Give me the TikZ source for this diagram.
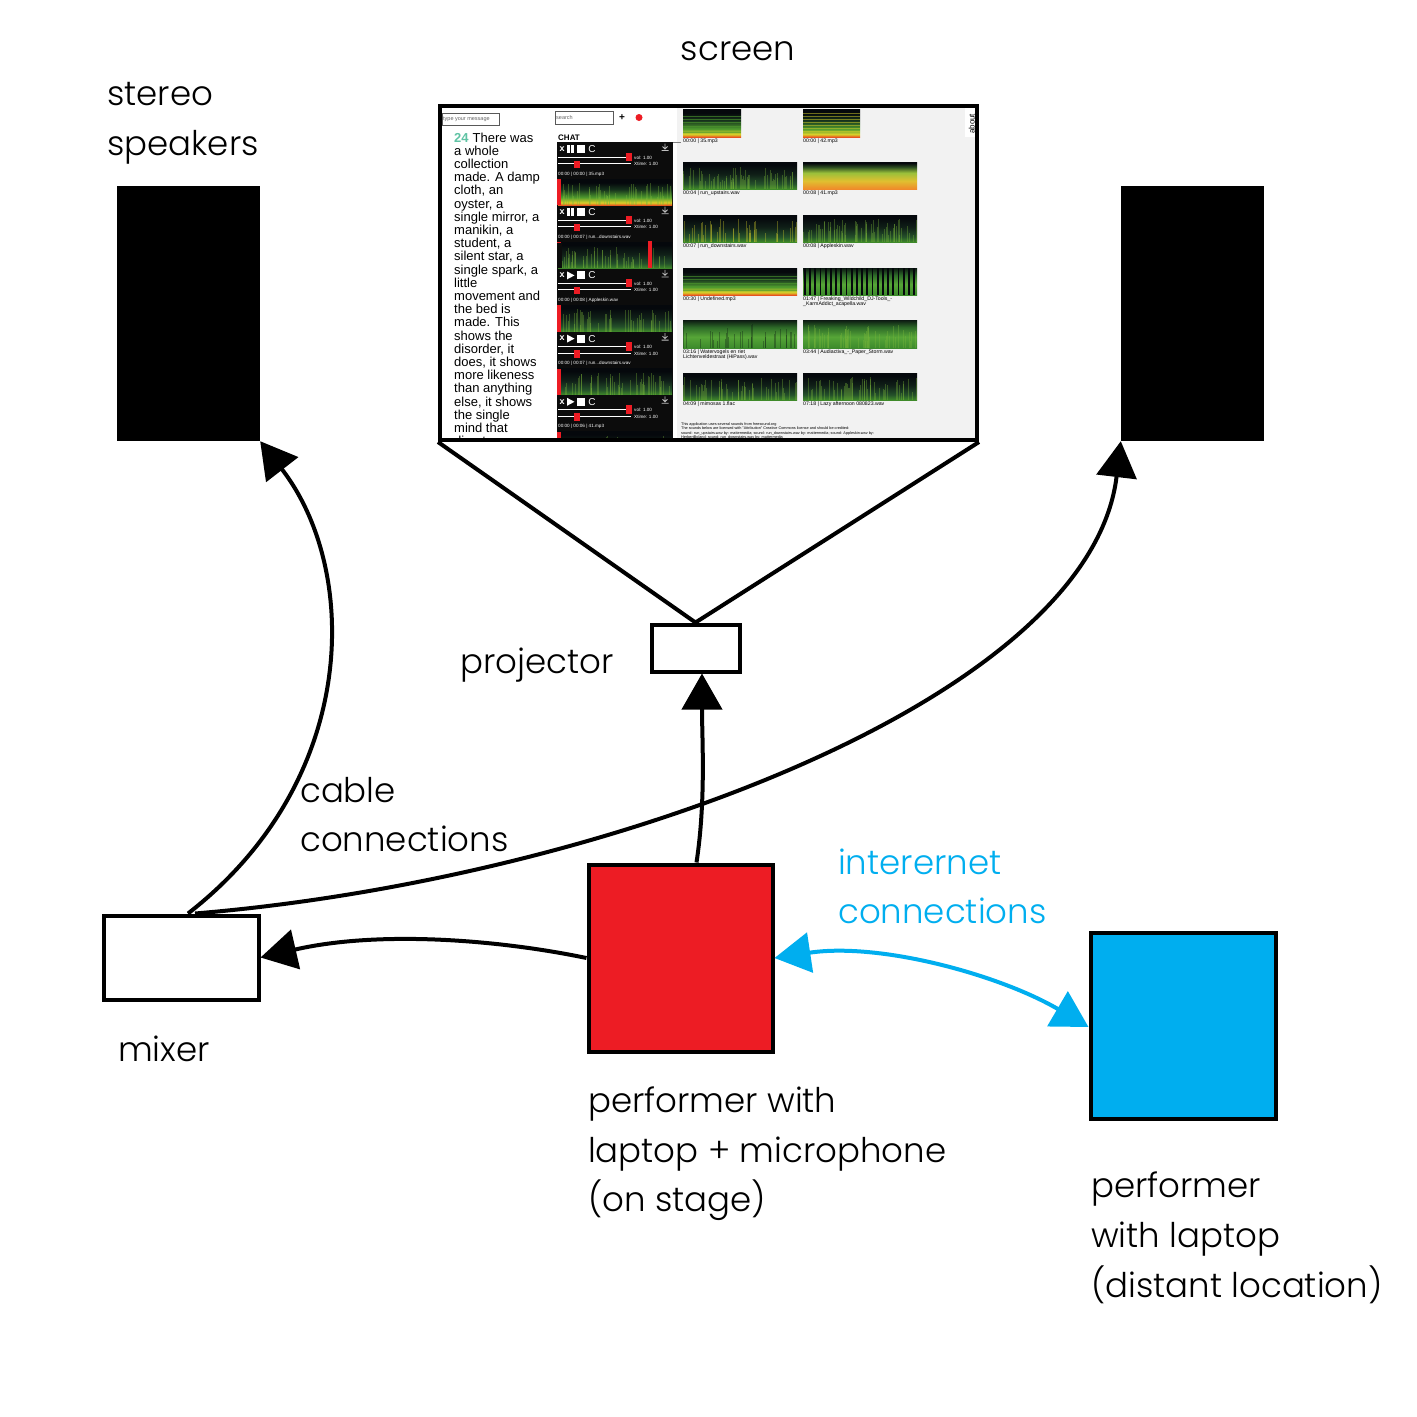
\documentclass[tikz,border=0pt]{standalone}
\usepackage{fontspec}
\IfFontExistsTF{Poppins Light}{\setmainfont{Poppins Light}}{\setmainfont{Poppins}}
\newfontfamily\arialf{Liberation Sans}
\usetikzlibrary{arrows.meta}
\definecolor{pred}{HTML}{ED1C24}
\definecolor{pblue}{HTML}{00AEEF}
\definecolor{teal24}{HTML}{5FC3A4}
\definecolor{panelgray}{HTML}{F2F2F2}
\definecolor{darkcol}{HTML}{0C0C0C}
\definecolor{sOr}{HTML}{E8531F}
\definecolor{sYe}{HTML}{D8D02A}
\definecolor{sGr}{HTML}{4E9A2E}
\definecolor{sDk}{HTML}{16321C}
\definecolor{sBk}{HTML}{05080C}
\definecolor{sB1}{HTML}{3F8A2A}
\definecolor{sB2}{HTML}{24502A}
\definecolor{sB3}{HTML}{102018}
\definecolor{sC1}{HTML}{F08A2A}
\definecolor{sC2}{HTML}{E0C030}
\definecolor{sC3}{HTML}{9AC03A}
\definecolor{sC4}{HTML}{2A4A20}
\definecolor{sD1}{HTML}{3C8A2C}
\definecolor{sD2}{HTML}{56A537}
\definecolor{sD3}{HTML}{2D6A28}
\definecolor{sD4}{HTML}{0C1A12}
\definecolor{streak}{HTML}{7DB83A}
\pgfdeclareverticalshading{specA}{100bp}{color(0bp)=(sOr); color(25bp)=(sOr); color(30bp)=(sYe); color(40bp)=(sGr); color(55bp)=(sDk); color(68bp)=(sBk); color(100bp)=(sBk)}
\pgfdeclareverticalshading{specB}{100bp}{color(0bp)=(sB1); color(25bp)=(sB1); color(35bp)=(sB2); color(52bp)=(sB3); color(70bp)=(sBk); color(100bp)=(sBk)}
\pgfdeclareverticalshading{specC}{100bp}{color(0bp)=(sC1); color(25bp)=(sC1); color(40bp)=(sC2); color(55bp)=(sC3); color(66bp)=(sC4); color(73bp)=(sBk); color(100bp)=(sBk)}
\pgfdeclareverticalshading{specD}{100bp}{color(0bp)=(sD1); color(25bp)=(sD1); color(45bp)=(sD2); color(62bp)=(sD3); color(75bp)=(sD4); color(100bp)=(sD4)}
\newcommand\spec[5]{\shade[shading=#5] (#1,#2) rectangle (#3,#4);}
\newcommand\streaks[6]{%
  \foreach \s in {1,...,#6}{%
    \pgfmathsetmacro\sx{#1+rnd*(#3-#1)}%
    \pgfmathsetmacro\sh{(#4-#2)*(0.25+0.6*rnd)}%
    \draw[#5,line width=0.7pt,opacity=0.35] (\sx,#4) -- ({\sx},{#4-\sh});}}
\tikzset{
  lab/.style={font=\fontsize{34}{50}\selectfont, anchor=base west, inner sep=0pt},
  box/.style={draw, line width=4pt, inner sep=0pt},
  conn/.style={line width=4pt},
  tip/.style={-{Triangle[length=36pt,width=40pt]}},
  chat/.style={font=\arialf\fontsize{13}{13}\selectfont, anchor=base west, inner sep=0pt},
  tinyw/.style={font=\arialf\fontsize{4.6}{5}\selectfont, text=white, anchor=base west, inner sep=0pt},
  tinyb/.style={font=\arialf\fontsize{5.2}{5.5}\selectfont, anchor=base west, inner sep=0pt},
  foot/.style={font=\arialf\fontsize{3.8}{4}\selectfont, anchor=base west, inner sep=0pt},
}
\begin{document}
\begin{tikzpicture}[x=1pt,y=-1pt]
\useasboundingbox (0,0) rectangle (1417,1417);
\fill[white] (0,0) rectangle (1417,1417);
\pgfmathsetseed{7}

% ---------------- screen contents ----------------
\begin{scope}
\clip (441,107) rectangle (976,439);
\fill[white] (441,107) rectangle (976,439);
\fill[panelgray] (677,107) rectangle (976,439);
% header
\draw[gray!70!black, line width=0.8pt] (442,113) rectangle (499,125);
\node[font=\arialf\fontsize{5.5}{6}\selectfont, text=gray!80!black, anchor=west, inner sep=0pt] (typemsg) at (443,119) {type your message};
\draw[gray!70!black, line width=0.8pt] (555,111) rectangle (613,124);
\node[font=\arialf\fontsize{5.5}{6}\selectfont, text=gray!80!black, anchor=west, inner sep=0pt] (search) at (556,117.5) {search};
\node[font=\arialf\bfseries\fontsize{10}{10}\selectfont, inner sep=0pt] (plus) at (622,117.5) {+};
\fill[pred] (639,117.5) circle (3.5);
% chat text
\node[chat] (chat0) at (454,142) {\textcolor{teal24}{\textbf{24}}\hspace{4pt}There was};
\foreach \t [count=\i] in {a whole, collection, made. A damp, {cloth, an}, {oyster, a}, {single mirror, a}, {manikin, a}, {student, a}, {silent star, a}, {single spark, a}, little, movement and, the bed is, made. This, shows the, {disorder, it}, {does, it shows}, more likeness, than anything, {else, it shows}, the single, mind that, directs an}
  \node[chat] (chat\i) at (454,{142+13.2*\i}) {\t};
% dark column
\node[font=\arialf\bfseries\fontsize{8}{8}\selectfont, anchor=base west, inner sep=0pt] (chathead) at (558,140.5) {CHAT};
\draw[gray, line width=0.8pt] (558,142) -- (681,142);
\fill[darkcol] (557,142) rectangle (673,441);
\foreach \k/\lab/\pl/\sh in {0/{00:00 | 00:00 | 35.mp3}/0/specA, 1/{00:00 | 00:07 | run...downstairs.wav}/0/specB, 2/{00:00 | 00:08 | Appleskin.wav}/1/specB, 3/{00:00 | 00:07 | run...downstairs.wav}/1/specB, 4/{00:00 | 00:06 | 41.mp3}/1/specB}{
  \begin{scope}[shift={(0,{142+63.2*\k})}]
    \node[font=\arialf\bfseries\fontsize{9}{9}\selectfont, text=white, inner sep=0pt] (px\k) at (562,7) {x};
    \ifnum\pl=0
      \fill[white] (567,3) rectangle (569.6,11);
      \fill[white] (571,3) rectangle (573.6,11);
    \else
      \fill[white] (567,3) -- (574.5,7) -- (567,11) -- cycle;
    \fi
    \fill[white] (577,3) rectangle (585,11);
    \node[font=\arialf\fontsize{10}{10}\selectfont, text=white, inner sep=0pt] (pc\k) at (592,7) {C};
    \draw[white!75!black, line width=0.8pt] (665,1.5) -- (665,6.5) (662.5,4.5) -- (665,7) -- (667.5,4.5) (661.5,8.5) -- (668.5,8.5);
    \draw[white, line width=1pt] (558,15) -- (630,15);
    \fill[pred] (626,10.5) rectangle (632,19);
    \node[tinyw] (pv\k) at (634,17) {vol: 1.00};
    \draw[white, line width=1pt] (558,21.5) -- (631,21.5);
    \fill[pred] (574,18.5) rectangle (579.5,26);
    \node[tinyw] (pt\k) at (634,23.5) {Xtime: 1.00};
    \node[tinyw] (pl\k) at (558,33) {\lab};
    \spec{558}{37}{672}{63.2}{\sh}
    \streaks{560}{37}{672}{63.2}{streak}{45}
    \fill[pred] (557,37) rectangle (561,63.2);
  \end{scope}
}
\fill[darkcol] (557,243) rectangle (562,268);
\fill[pred] (648,241) rectangle (652,268);
% thumbnails
\spec{683}{109}{741}{137}{specA}
\foreach \s in {0,...,5} \draw[sGr, opacity=0.6, line width=0.8pt] (683,{116+3.3*\s}) -- (741,{116+3.3*\s});
\spec{803}{109}{860}{137}{specA}
\foreach \s in {0,...,7} \draw[sYe, opacity=0.5, line width=0.8pt] (803,{113+3*\s}) -- (860,{113+3*\s});
\spec{683}{162}{797}{189}{specB} \streaks{683}{162}{797}{189}{streak}{60}
\spec{803}{162}{917}{189}{specC}
\spec{683}{215}{797}{242}{specB} \streaks{683}{215}{797}{242}{sYe}{40}
\spec{803}{215}{917}{242}{specB} \streaks{803}{215}{917}{242}{streak}{60}
\spec{683}{268}{797}{295}{specA}
\foreach \s in {0,...,4} \draw[sGr, opacity=0.6, line width=0.8pt] (683,{276+3.5*\s}) -- (797,{276+3.5*\s});
\spec{803}{268}{917}{295}{specD}
\foreach \s in {0,...,21} \fill[sBk] ({804+5.2*\s},268) rectangle +(1.8,27);
\spec{683}{320}{797}{348}{specD} \streaks{683}{320}{797}{348}{sD4}{30}
\spec{803}{320}{917}{348}{specD} \streaks{803}{320}{917}{348}{streak}{50}
\spec{683}{373}{797}{400}{specB} \streaks{683}{373}{797}{400}{streak}{45}
\spec{803}{373}{917}{400}{specB} \streaks{803}{373}{917}{400}{streak}{50}
\node[tinyb] (t1a) at (683,142.5) {00:00 | 35.mp3};
\node[tinyb] (t1b) at (803,142.5) {00:00 | 42.mp3};
\node[tinyb] (t2a) at (683,194.5) {00:04 | run\_upstairs.wav};
\node[tinyb] (t2b) at (803,194.5) {00:08 | 41.mp3};
\node[tinyb] (t3a) at (683,247.5) {00:07 | run\_downstairs.wav};
\node[tinyb] (t3b) at (803,247.5) {00:08 | Appleskin.wav};
\node[tinyb] (t4a) at (683,300.5) {00:30 | Undefined.mp3};
\node[tinyb] (t4b) at (803,300.5) {01:47 | Freaking\_Wildchild\_DJ-Tools\_-};
\node[tinyb] (t4c) at (803,305.5) {\_KarmAddict\_acapella.wav};
\node[tinyb] (t5a) at (683,353) {03:16 | Watervogels en riet};
\node[tinyb] (t5b) at (683,358) {Lichtenveldestraat (HiPass).wav};
\node[tinyb] (t5c) at (803,353) {03:44 | Audiactiva\_-\_Paper\_Storm.wav};
\node[tinyb] (t6a) at (683,405.5) {04:09 | mimosas 1.flac};
\node[tinyb] (t6b) at (803,405.5) {07:18 | Lazy afternoon 080823.wav};
\node[foot] (f1) at (681,425) {This application uses several sounds from freesound.org};
\node[foot] (f2) at (681,429.5) {The sounds below are licensed with "Attribution" Creative Commons license and should be credited:};
\node[foot] (f3) at (681,434) {sound: run\_upstairs.wav by: mattermedia; sound: run\_downstairs.wav by: mattermedia; sound: Appleskin.wav by:};
\node[foot] (f4) at (681,438.5) {HerbertBoland; sound: run\_downstairs.wav by: mattermedia};
\fill[white] (965,107) rectangle (976,137);
\node[font=\arialf\fontsize{8}{8}\selectfont, rotate=90, anchor=south west, inner sep=0pt] (about) at (975,134) {about};
\end{scope}

% ---------------- main nodes ----------------
\node[fill=black, minimum width=143pt, minimum height=255pt, inner sep=0pt] (spkL) at (188.5,313.5) {};
\node[fill=black, minimum width=143pt, minimum height=255pt, inner sep=0pt] (spkR) at (1192.5,313.5) {};
\node[box, minimum width=537pt, minimum height=334pt] (screen) at (708.5,273) {};
\node[box, fill=white, minimum width=88pt, minimum height=47pt] (proj) at (695.5,648) {};
\node[box, fill=white, minimum width=155pt, minimum height=84pt] (mixer) at (181,957.5) {};
\node[box, fill=pred, minimum width=184pt, minimum height=187pt] (perf) at (680.5,958) {};
\node[box, fill=pblue, minimum width=185pt, minimum height=186pt] (remote) at (1183,1025.5) {};

% ---------------- connectors ----------------
\draw[conn, line join=round] (screen.south west) -- (proj.north) -- (screen.south east);
\draw[conn, tip] ([xshift=7pt]mixer.north) .. controls (360,780) and (360,570) .. (spkL.south east);
\draw[conn, tip] ([xshift=14pt]mixer.north) .. controls (600,880) and (1090,700) .. (spkR.south west);
\draw[conn, tip] ([xshift=16pt]perf.north) .. controls (706,800) and (702,740) .. ([xshift=6.5pt]proj.south);
\draw[conn, tip] (perf.west) .. controls (500,940) and (380,930) .. (mixer.east);
\draw[conn, pblue, {Triangle[length=36pt,width=40pt]}-{Triangle[length=36pt,width=40pt]}] (perf.east) .. controls (880,942) and (1000,975) .. ([yshift=-1.5pt]remote.west);

% ---------------- labels ----------------
\node[lab, anchor=base] (lscreen) at (738,60) {screen};
\node[lab] (lst1) at (107,105) {stereo};
\node[lab] (lst2) at (107,155) {speakers};
\node[lab] (lproj) at (460,673) {projector};
\node[lab] (lcab1) at (300,802) {cable};
\node[lab] (lcab2) at (300,851) {connections};
\node[lab, text=pblue] (lnet1) at (838,874) {interernet};
\node[lab, text=pblue] (lnet2) at (838,923) {connections};
\node[lab] (lmix) at (118,1061) {mixer};
\node[lab] (lp1) at (588,1112) {performer with};
\node[lab] (lp2) at (588,1162) {laptop + microphone};
\node[lab] (lp3) at (588,1211) {(on stage)};
\node[lab] (lr1) at (1091,1197) {performer};
\node[lab] (lr2) at (1091,1247) {with laptop};
\node[lab] (lr3) at (1091,1297) {(distant location)};
\end{tikzpicture}
\end{document}
